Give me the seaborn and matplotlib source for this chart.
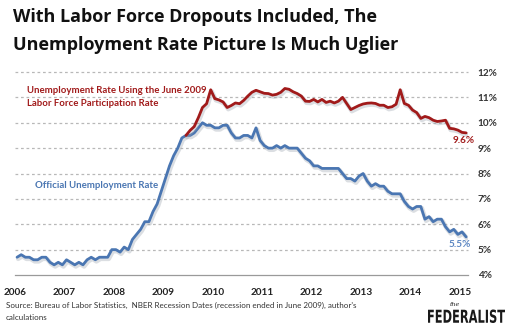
import numpy as np
import pandas as pd
import matplotlib
matplotlib.use("Agg")
import matplotlib.pyplot as plt
import seaborn as sns
from matplotlib import patheffects as pe
from matplotlib.textpath import TextPath
from matplotlib.patches import PathPatch
from matplotlib.font_manager import FontProperties
from matplotlib.transforms import Affine2D

# Official unemployment rate (%), monthly from Jan 2006 to Feb 2015
official_start = "2006-01"
official_rate = [
    4.7, 4.8, 4.7, 4.7, 4.6, 4.6, 4.7, 4.7, 4.5, 4.4, 4.5, 4.4,
    4.6, 4.5, 4.4, 4.5, 4.4, 4.6, 4.7, 4.6, 4.7, 4.7, 4.7, 5.0,
    5.0, 4.9, 5.1, 5.0, 5.4, 5.6, 5.8, 6.1, 6.1, 6.5, 6.8, 7.3,
    7.8, 8.3, 8.7, 9.0, 9.4, 9.5, 9.5, 9.6, 9.8, 10.0, 9.9, 9.9,
    9.8, 9.8, 9.9, 9.9, 9.6, 9.4, 9.4, 9.5, 9.5, 9.4, 9.8, 9.3,
    9.1, 9.0, 9.0, 9.1, 9.0, 9.1, 9.0, 9.0, 9.0, 8.8, 8.6, 8.5,
    8.3, 8.3, 8.2, 8.2, 8.2, 8.2, 8.2, 8.0, 7.8, 7.8, 7.7, 7.9,
    8.0, 7.7, 7.5, 7.6, 7.5, 7.5, 7.3, 7.2, 7.2, 7.2, 6.9, 6.7,
    6.6, 6.7, 6.7, 6.2, 6.3, 6.1, 6.2, 6.2, 5.9, 5.7, 5.8, 5.6,
    5.7, 5.5,
]

# Rate recomputed with the June 2009 participation rate, Jun 2009 to Feb 2015
adjusted_start = "2009-06"
adjusted_rate = [
    9.5, 9.7, 9.85, 10.2, 10.6, 10.75, 11.3,
    10.95, 10.9, 10.82, 10.6, 10.68, 10.78, 10.75, 10.88, 11.05, 11.2, 11.28, 11.22,
    11.16, 11.15, 11.09, 11.12, 11.2, 11.35, 11.32, 11.22, 11.15, 11.05, 10.85, 10.84,
    10.92, 10.82, 10.92, 10.8, 10.85, 10.78, 10.85, 11.0, 10.76, 10.52, 10.6, 10.68,
    10.74, 10.77, 10.78, 10.76, 10.69, 10.69, 10.6, 10.63, 10.73, 11.3, 10.76, 10.69,
    10.5, 10.4, 10.17, 10.25, 10.2, 10.1, 10.05, 10.07, 10.1, 9.78, 9.76, 9.71,
    9.62, 9.6,
]

year_ticks = list(range(2006, 2016))
pct_ticks = list(range(4, 13))

RED = "#A11A1A"
BLUE = "#4A76B2"


def to_frame(values, start, label):
    dates = pd.date_range(start, periods=len(values), freq="MS")
    t = dates.year + (dates.month - 0.5) / 12.0
    return pd.DataFrame({"t": t, "rate": values, "series": label})


official_df = to_frame(official_rate, official_start, "official")
adjusted_df = to_frame(adjusted_rate, adjusted_start, "adjusted")
df = pd.concat([official_df, adjusted_df], ignore_index=True)

sns.set_style("white")
plt.rcParams["font.family"] = ["Lato", "DejaVu Sans"]

W, H = 508, 328
fig = plt.figure(figsize=(W / 100, H / 100), dpi=100)
fig.patch.set_facecolor("white")
ax = fig.add_axes([15 / W, 53 / H, (468 - 15) / W, (275 - 72) / H])

shadow = [pe.SimpleLineShadow(offset=(0.8, -1.2), shadow_color="#9aa3ad", alpha=0.35, linewidth=3.2),
          pe.Normal()]
sns.lineplot(data=df, x="t", y="rate", hue="series",
             palette={"official": BLUE, "adjusted": RED},
             legend=False, ax=ax, linewidth=2.0, estimator=None)
for ln in ax.lines:
    ln.set_path_effects(shadow)
    ln.set_solid_capstyle("round")
    ln.set_solid_joinstyle("round")

ax.set_xlim(2006, 2015.163)
ax.set_ylim(4, 12)
ax.set_xlabel("")
ax.set_ylabel("")

# horizontal dashed gridlines
for v in pct_ticks[1:]:
    ax.axhline(v, color="#b8b8b8", lw=0.9, ls=(0, (2.2, 2.2)), zorder=0, clip_on=False)

for s in ["left", "top", "right"]:
    ax.spines[s].set_visible(False)
ax.spines["bottom"].set_color("#9a9a9a")
ax.spines["bottom"].set_linewidth(0.9)

ax.set_xticks(year_ticks)
ax.set_xticklabels([str(y) for y in year_ticks])
ax.set_xticks([y + 0.5 for y in year_ticks[:-1]], minor=True)
ax.tick_params(axis="x", which="both", direction="inout", length=5, width=0.8,
               color="#9a9a9a", pad=7, labelsize=7.2, labelcolor="#222222")
for lab in ax.get_xticklabels():
    lab.set_fontweight("bold")

ax.yaxis.tick_right()
ax.set_yticks(pct_ticks)
ax.set_yticklabels([f"{v}%" for v in pct_ticks])
ax.tick_params(axis="y", length=0, pad=7, labelsize=7.2, labelcolor="#333333")
for lab in ax.get_yticklabels():
    lab.set_fontweight("bold")

# Title
title_font = ["Open Sans", "DejaVu Sans"]
fig.text(13 / W, 1 - 21.5 / H, "With Labor Force Dropouts Included, The",
         fontsize=13.0, fontweight="bold", family=title_font, color="#111111",
         va="baseline", ha="left")
fig.text(13 / W, 1 - 49.5 / H, "Unemployment Rate Picture Is Much Uglier",
         fontsize=13.0, fontweight="bold", family=title_font, color="#111111",
         va="baseline", ha="left")

# Series labels
fig.text(27 / W, 1 - 93 / H, "Unemployment Rate Using the June 2009",
         fontsize=6.9, fontweight="bold", color=RED, va="baseline")
fig.text(27 / W, 1 - 106 / H, "Labor Force Participation Rate",
         fontsize=6.9, fontweight="bold", color=RED, va="baseline")
fig.text(35 / W, 1 - 188 / H, "Official Unemployment Rate",
         fontsize=6.95, fontweight="bold", color=BLUE, va="baseline")

# End-point value labels
ax.annotate(f"{adjusted_rate[-1]:.1f}%", xy=(adjusted_df["t"].iloc[-1], adjusted_rate[-1]),
            xytext=(-1.5, -2), textcoords="offset points", ha="center", va="top",
            fontsize=7.2, fontweight="bold", color=RED)
ax.annotate(f"{official_rate[-1]:.1f}%", xy=(official_df["t"].iloc[-1], official_rate[-1]),
            xytext=(-4.7, -2.2), textcoords="offset points", ha="center", va="top",
            fontsize=7.2, fontweight="bold", color="#5b86c2")

# Source note
fig.text(6 / W, 1 - 308 / H,
         "Source: Bureau of Labor Statistics,  NBER Recession Dates (recession ended in June 2009), author's",
         fontsize=5.75, color="#333333", va="baseline")
fig.text(6 / W, 1 - 320 / H, "calculations", fontsize=5.75, color="#333333", va="baseline")

# Publisher mark
fig.text(455 / W, 1 - 306 / H, "the", fontsize=4.5, style="italic", family="DejaVu Serif",
         color="#222222", ha="center", va="baseline")
fp = FontProperties(family="DejaVu Sans", weight="bold")
tp = TextPath((0, 0), "FEDERALIST", size=1.0, prop=fp)
bb = tp.get_extents()
sx = (505 - 428) / bb.width
sy = 13.5 / bb.height
tr = Affine2D().translate(-bb.x0, -bb.y0).scale(sx, sy).translate(428, H - 323)
fig.patches.append(PathPatch(tr.transform_path(tp), facecolor="#1a1a1a", edgecolor="none",
                             transform=None, figure=fig))

fig.savefig("out.png", dpi=100, facecolor="white")
